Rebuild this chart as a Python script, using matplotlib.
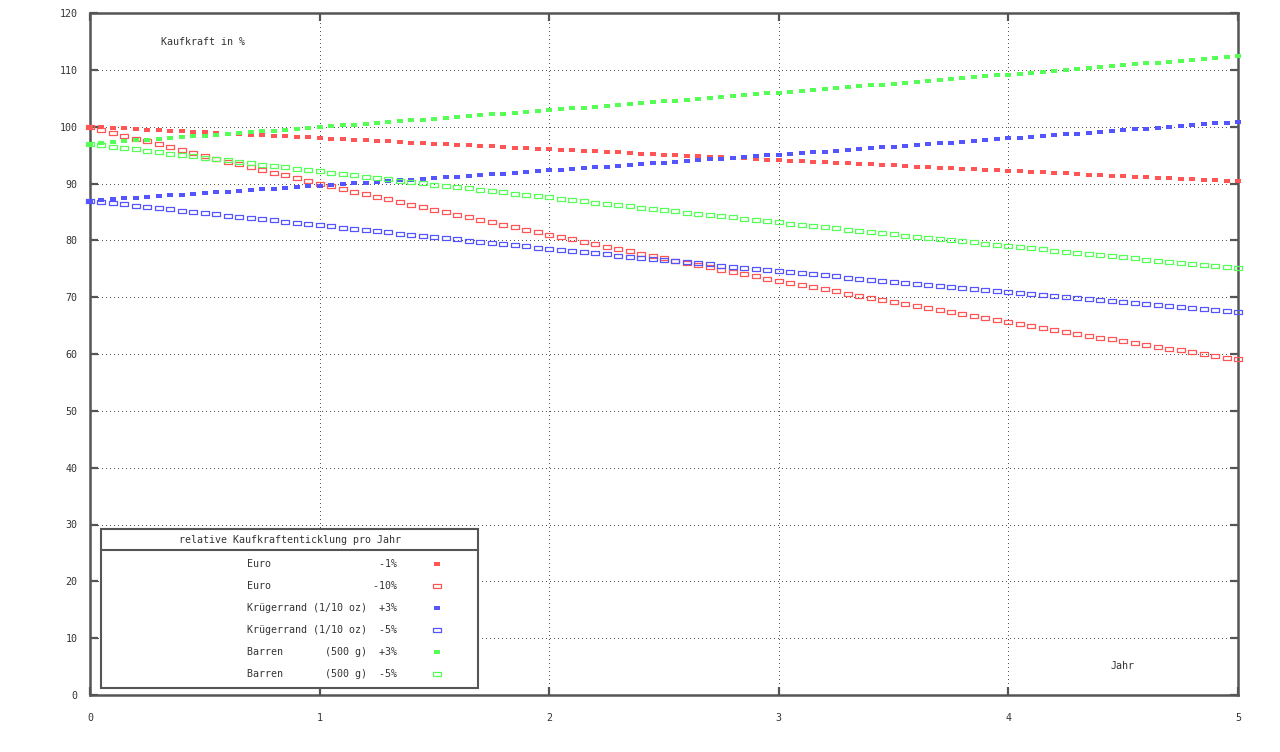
import numpy as np
import matplotlib
matplotlib.use("Agg")
import matplotlib.pyplot as plt
from matplotlib.path import Path
from matplotlib.patches import Rectangle

# Jahre: 0 .. 5 in Schritten von 0.05
jahre = np.linspace(0, 5, 101)

euro_m1 = [100.00, 99.90, 99.80, 99.70, 99.60, 99.50, 99.40, 99.30, 99.20, 99.09,
           98.99, 98.89, 98.79, 98.69, 98.59, 98.49, 98.39, 98.30, 98.20, 98.10,
           98.00, 97.90, 97.80, 97.70, 97.60, 97.51, 97.41, 97.31, 97.21, 97.11,
           97.01, 96.92, 96.82, 96.72, 96.62, 96.53, 96.43, 96.33, 96.23, 96.14,
           96.04, 95.94, 95.85, 95.75, 95.65, 95.56, 95.46, 95.36, 95.27, 95.17,
           95.07, 94.98, 94.88, 94.79, 94.69, 94.60, 94.50, 94.40, 94.31, 94.21,
           94.12, 94.02, 93.93, 93.83, 93.74, 93.64, 93.55, 93.45, 93.36, 93.26,
           93.17, 93.08, 92.98, 92.89, 92.79, 92.70, 92.61, 92.51, 92.42, 92.32,
           92.24, 92.14, 92.05, 91.96, 91.86, 91.77, 91.68, 91.58, 91.49, 91.40,
           91.31, 91.22, 91.12, 91.03, 90.94, 90.85, 90.76, 90.67, 90.58, 90.48,
           90.39]

euro_m10 = [100.00, 99.47, 98.95, 98.43, 97.91, 97.40, 96.89, 96.38, 95.87, 95.37,
            94.87, 94.37, 93.87, 93.38, 92.89, 92.40, 91.92, 91.43, 90.95, 90.48,
            90.00, 89.53, 89.06, 88.59, 88.12, 87.66, 87.20, 86.74, 86.29, 85.83,
            85.38, 84.93, 84.49, 84.04, 83.60, 83.16, 82.73, 82.29, 81.86, 81.43,
            81.00, 80.57, 80.15, 79.73, 79.31, 78.89, 78.48, 78.07, 77.66, 77.25,
            76.84, 76.44, 76.04, 75.64, 75.24, 74.85, 74.45, 74.06, 73.67, 73.28,
            72.90, 72.52, 72.14, 71.76, 71.38, 71.00, 70.63, 70.26, 69.89, 69.52,
            69.16, 68.80, 68.43, 68.08, 67.72, 67.36, 67.01, 66.66, 66.30, 65.96,
            65.61, 65.27, 64.92, 64.58, 64.24, 63.90, 63.57, 63.24, 62.90, 62.57,
            62.24, 61.92, 61.59, 61.27, 60.95, 60.63, 60.31, 59.99, 59.67, 59.36,
            59.05]

krueger_p3 = [87.00, 87.13, 87.26, 87.39, 87.52, 87.65, 87.77, 87.90, 88.03, 88.16,
              88.30, 88.43, 88.56, 88.69, 88.82, 88.95, 89.08, 89.21, 89.35, 89.48,
              89.61, 89.74, 89.88, 90.01, 90.14, 90.27, 90.41, 90.54, 90.68, 90.81,
              90.94, 91.08, 91.21, 91.35, 91.48, 91.62, 91.75, 91.89, 92.03, 92.16,
              92.30, 92.43, 92.57, 92.71, 92.85, 92.98, 93.12, 93.26, 93.40, 93.53,
              93.67, 93.81, 93.95, 94.09, 94.23, 94.37, 94.51, 94.65, 94.79, 94.93,
              95.07, 95.21, 95.35, 95.49, 95.63, 95.77, 95.91, 96.06, 96.20, 96.34,
              96.48, 96.63, 96.77, 96.91, 97.05, 97.20, 97.34, 97.49, 97.63, 97.77,
              97.92, 98.06, 98.21, 98.35, 98.50, 98.65, 98.79, 98.94, 99.08, 99.23,
              99.38, 99.52, 99.67, 99.82, 99.97, 100.11, 100.26, 100.41, 100.56, 100.71,
              100.86]

krueger_m5 = [87.00, 86.78, 86.55, 86.33, 86.11, 85.89, 85.67, 85.45, 85.23, 85.01,
              84.80, 84.58, 84.36, 84.15, 83.93, 83.72, 83.50, 83.29, 83.07, 82.86,
              82.65, 82.44, 82.23, 82.02, 81.81, 81.60, 81.39, 81.18, 80.97, 80.76,
              80.56, 80.35, 80.15, 79.94, 79.73, 79.53, 79.33, 79.12, 78.92, 78.72,
              78.52, 78.32, 78.12, 77.92, 77.72, 77.52, 77.32, 77.12, 76.92, 76.73,
              76.53, 76.33, 76.14, 75.94, 75.75, 75.55, 75.36, 75.17, 74.98, 74.78,
              74.59, 74.40, 74.21, 74.02, 73.83, 73.64, 73.45, 73.26, 73.08, 72.89,
              72.70, 72.52, 72.33, 72.15, 71.96, 71.78, 71.59, 71.41, 71.23, 71.04,
              70.86, 70.68, 70.50, 70.32, 70.14, 69.96, 69.78, 69.60, 69.42, 69.25,
              69.07, 68.89, 68.71, 68.54, 68.36, 68.19, 68.01, 67.84, 67.67, 67.49,
              67.32]

barren_p3 = [97.00, 97.14, 97.29, 97.43, 97.57, 97.72, 97.86, 98.01, 98.15, 98.30,
             98.44, 98.59, 98.74, 98.88, 99.03, 99.17, 99.32, 99.47, 99.62, 99.76,
             99.91, 100.06, 100.21, 100.35, 100.50, 100.65, 100.80, 100.95, 101.10, 101.25,
             101.40, 101.55, 101.70, 101.85, 102.00, 102.15, 102.30, 102.45, 102.60, 102.76,
             102.91, 103.06, 103.21, 103.36, 103.52, 103.67, 103.82, 103.98, 104.13, 104.29,
             104.44, 104.59, 104.75, 104.90, 105.06, 105.21, 105.37, 105.53, 105.68, 105.84,
             105.99, 106.15, 106.31, 106.47, 106.62, 106.78, 106.94, 107.10, 107.26, 107.41,
             107.57, 107.73, 107.89, 108.05, 108.21, 108.37, 108.53, 108.69, 108.85, 109.01,
             109.17, 109.34, 109.50, 109.66, 109.82, 109.98, 110.15, 110.31, 110.47, 110.64,
             110.80, 110.96, 111.13, 111.29, 111.46, 111.62, 111.79, 111.95, 112.12, 112.28,
             112.45]

barren_m5 = [97.00, 96.75, 96.50, 96.26, 96.01, 95.76, 95.52, 95.27, 95.03, 94.79,
             94.54, 94.30, 94.06, 93.82, 93.58, 93.34, 93.10, 92.86, 92.62, 92.39,
             92.15, 91.91, 91.68, 91.44, 91.21, 90.98, 90.74, 90.51, 90.28, 90.05,
             89.82, 89.59, 89.36, 89.13, 88.90, 88.67, 88.45, 88.22, 87.99, 87.77,
             87.54, 87.32, 87.09, 86.87, 86.65, 86.43, 86.21, 85.98, 85.76, 85.54,
             85.33, 85.11, 84.89, 84.67, 84.45, 84.24, 84.02, 83.81, 83.59, 83.38,
             83.17, 82.95, 82.74, 82.53, 82.32, 82.11, 81.90, 81.69, 81.48, 81.27,
             81.06, 80.85, 80.65, 80.44, 80.23, 80.03, 79.82, 79.62, 79.41, 79.21,
             79.01, 78.80, 78.60, 78.40, 78.20, 78.00, 77.80, 77.60, 77.40, 77.20,
             77.01, 76.81, 76.61, 76.42, 76.22, 76.03, 75.83, 75.64, 75.44, 75.25,
             75.06]

labels = ["Euro                  -1%",
          "Euro                 -10%",
          "Krügerrand (1/10 oz)  +3%",
          "Krügerrand (1/10 oz)  -5%",
          "Barren       (500 g)  +3%",
          "Barren       (500 g)  -5%"]

ROT = "#ff5555"
BLAU = "#5555ff"
GRUEN = "#55ff55"
GRAU = "#555555"
TEXT = "#333333"

plt.rcParams['font.family'] = ['DejaVu Sans Mono', 'DejaVu Sans']

# gnuplot-artige Marker: gefuelltes Rechteck und leeres Rechteck mit Punkt
voll = Path([(-1.5, -1.0), (1.5, -1.0), (1.5, 1.0), (-1.5, 1.0), (-1.5, -1.0)],
            [1, 2, 2, 2, 79])
leer = Path([(-3, -2), (3, -2), (3, 2), (-3, 2), (-3, -2),
             (-0.3, -0.3), (0.3, -0.3), (0.3, 0.3), (-0.3, 0.3), (-0.3, -0.3)],
            [1, 2, 2, 2, 79, 1, 2, 2, 2, 79])

fig = plt.figure(figsize=(12.8, 7.52), dpi=100)
ax = fig.add_axes([90 / 1280, 57 / 752, 1148 / 1280, 682 / 752])

serien = [(euro_m1, ROT, True), (euro_m10, ROT, False),
          (krueger_p3, BLAU, True), (krueger_m5, BLAU, False),
          (barren_p3, GRUEN, True), (barren_m5, GRUEN, False)]

handles = []
for werte, farbe, gefuellt in serien:
    if gefuellt:
        h, = ax.plot(jahre, werte, linestyle='none', marker=voll, markersize=4.4,
                     color=farbe, markeredgewidth=0, clip_on=False, zorder=3)
    else:
        h, = ax.plot(jahre, werte, linestyle='none', marker=leer, markersize=5.2,
                     markerfacecolor='none', markeredgecolor=farbe,
                     markeredgewidth=0.9, clip_on=False, zorder=3)
    handles.append(h)

ax.set_xlim(0, 5)
ax.set_ylim(0, 120)
ax.set_xticks([0, 1, 2, 3, 4, 5])
ax.set_yticks(range(0, 121, 10))
ax.grid(True, color=GRAU, linestyle=(0, (1, 3)), linewidth=0.72, antialiased=False)
ax.set_axisbelow(True)
for s in ax.spines.values():
    s.set_color(GRAU)
    s.set_linewidth(1.8)
ax.tick_params(direction='in', length=6, width=1.6, color=GRAU,
               labelcolor=TEXT, labelsize=7.2, top=True, right=True)
ax.tick_params(axis='x', pad=13)
ax.tick_params(axis='y', pad=9)

ax.text(0.49, 114.9, "Kaufkraft in %", ha='center', va='center',
        fontsize=7.2, color=TEXT)
ax.text(4.495, 5.1, "Jahr", ha='center', va='center',
        fontsize=7.2, color=TEXT)

# Legendenrahmen mit Titelzeile
box = Rectangle((11 / 1148, 7 / 682), 377 / 1148, 159 / 682, transform=ax.transAxes,
                facecolor='white', edgecolor=GRAU, linewidth=1.5, zorder=5)
ax.add_patch(box)
ax.plot([11 / 1148, 388 / 1148], [145 / 682, 145 / 682], transform=ax.transAxes,
        color=GRAU, linewidth=1.5, zorder=6)
ax.text(200 / 1148, 155 / 682, "relative Kaufkraftenticklung pro Jahr",
        transform=ax.transAxes, ha='center', va='center', fontsize=7.2,
        color=TEXT, zorder=7)

leg = ax.legend(handles, labels, loc='upper left', bbox_to_anchor=(157 / 1148, 136 / 682),
                frameon=False, markerfirst=False, fontsize=7.2, labelspacing=1.2,
                handlelength=1.5, handletextpad=3.2, borderpad=0, borderaxespad=0,
                numpoints=1)
leg.set_zorder(8)
for t in leg.get_texts():
    t.set_color(TEXT)

fig.savefig("out.png", dpi=100)
